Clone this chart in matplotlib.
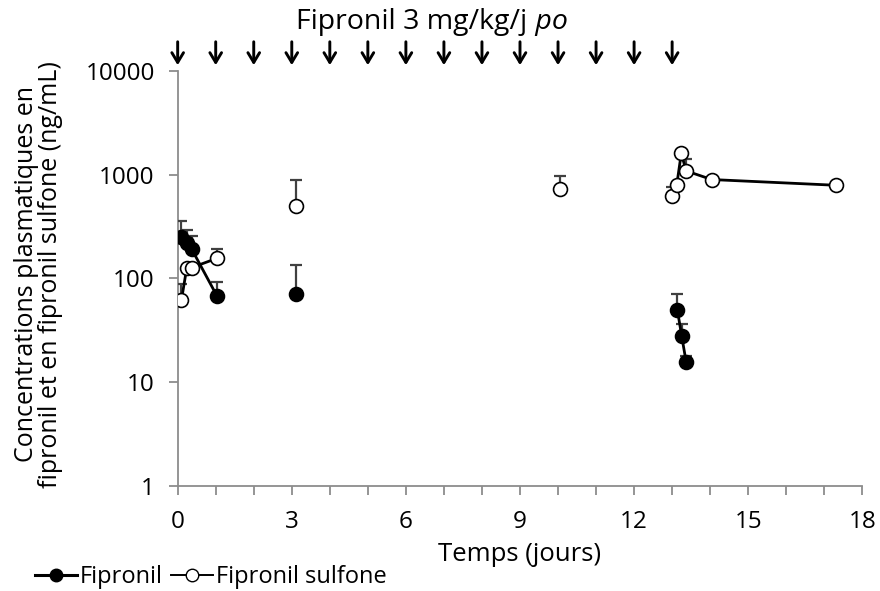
import numpy as np
import matplotlib
matplotlib.use("Agg")
import matplotlib.pyplot as plt
from matplotlib.lines import Line2D
from matplotlib.transforms import blended_transform_factory

plt.rcParams["font.family"] = ["Open Sans", "DejaVu Sans"]

# plasma concentrations (ng/mL), mean + upper SD; group = points joined by a line
fip_time = [0.10, 0.24, 0.37, 1.03, 3.10, 13.14, 13.25, 13.37]
fip_conc = [250, 217, 191, 68, 70, 49, 28, 15.5]
fip_sd = [106, 74, 64, 24, 66, 21, 8, 2.3]
fip_group = [0, 0, 0, 0, 1, 2, 2, 2]

sulf_time = [0.10, 0.24, 0.37, 1.03, 3.10, 10.05, 13.00, 13.12, 13.24, 13.37, 14.04, 17.30]
sulf_conc = [62, 127, 127, 156, 497, 724, 624, 790, 1600, 1086, 897, 790]
sulf_sd = [26, 0, 0, 38, 400, 242, 128, 0, 0, 314, 0, 0]
sulf_group = [0, 0, 0, 0, 1, 2, 3, 3, 3, 3, 3, 3]

dose_days = list(range(14))
x_ticks = [0, 3, 6, 9, 12, 15, 18]
y_ticks = [1, 10, 100, 1000, 10000]


def draw_series(ax, t, c, sd, grp, face, z):
    t, c, sd, grp = map(np.asarray, (t, c, sd, grp))
    for g in np.unique(grp):
        m = grp == g
        ax.errorbar(t[m], c[m], yerr=[np.zeros(m.sum()), sd[m]], fmt="none",
                    ecolor="#404040", elinewidth=1.6, capsize=4, capthick=1.6, zorder=z)
        ax.plot(t[m], c[m], color="black", lw=2, marker="o", ms=10,
                mfc=face, mec="black", mew=1.2, zorder=z + 1)


fig = plt.figure(figsize=(8.8, 5.91), dpi=100)
ax = fig.add_axes([0.2019, 0.178, 0.778, 0.702])

draw_series(ax, sulf_time, sulf_conc, sulf_sd, sulf_group, "white", 3)
draw_series(ax, fip_time, fip_conc, fip_sd, fip_group, "black", 5)

ax.set_yscale("log")
ax.set_ylim(1, 10000)
ax.set_xlim(0, 18)
ax.set_yticks(y_ticks)
ax.set_yticklabels([str(v) for v in y_ticks])
ax.yaxis.set_minor_locator(matplotlib.ticker.NullLocator())
ax.set_xticks(x_ticks)
ax.set_xticks(range(19), minor=True)
for s in ["top", "right"]:
    ax.spines[s].set_visible(False)
for s in ["left", "bottom"]:
    ax.spines[s].set_color("#8c8c8c")
    ax.spines[s].set_linewidth(1.3)
ax.tick_params(axis="both", which="both", color="#8c8c8c", width=1.3, length=6.5,
               labelsize=17.5, colors="#8c8c8c", labelcolor="black")
ax.tick_params(axis="y", pad=10)
ax.tick_params(axis="x", pad=11)
ax.set_xlabel("Temps (jours)", fontsize=18.5, labelpad=6)
ax.set_ylabel("Concentrations plasmatiques en\nfipronil et en fipronil sulfone (ng/mL)",
              fontsize=18, linespacing=0.95)
ax.yaxis.set_label_coords(-0.168, 0.51)

# dosing arrows
tr = blended_transform_factory(ax.transData, fig.transFigure)
for d in dose_days:
    ax.annotate("", xy=(d, 1 - 68 / 591), xytext=(d, 1 - 39 / 591),
                xycoords=tr, textcoords=tr, annotation_clip=False,
                arrowprops=dict(arrowstyle="->,head_length=0.7,head_width=0.42",
                                color="black", lw=2.1))
t1 = ax.text(9.2, 1 - 22 / 591, "Fipronil 3 mg/kg/j", transform=tr, ha="right",
             va="center", fontsize=20.5)
ax.annotate(" po", xy=(1, 0), xycoords=t1, va="bottom", ha="left",
            fontsize=20.5, style="italic")

handles = [
    Line2D([], [], color="black", lw=2.2, marker="o", ms=9, mfc="black", mec="black"),
    Line2D([], [], color="black", lw=1.4, marker="o", ms=9, mfc="white", mec="black"),
]
fig.legend(handles, ["Fipronil", "Fipronil sulfone"], loc="center left",
           bbox_to_anchor=(0.04, 0.024), ncol=2, frameon=False, fontsize=17,
           handlelength=1.75, handletextpad=0.15, columnspacing=0.35, borderpad=0,
           borderaxespad=0)

fig.savefig("out.png", dpi=100)
